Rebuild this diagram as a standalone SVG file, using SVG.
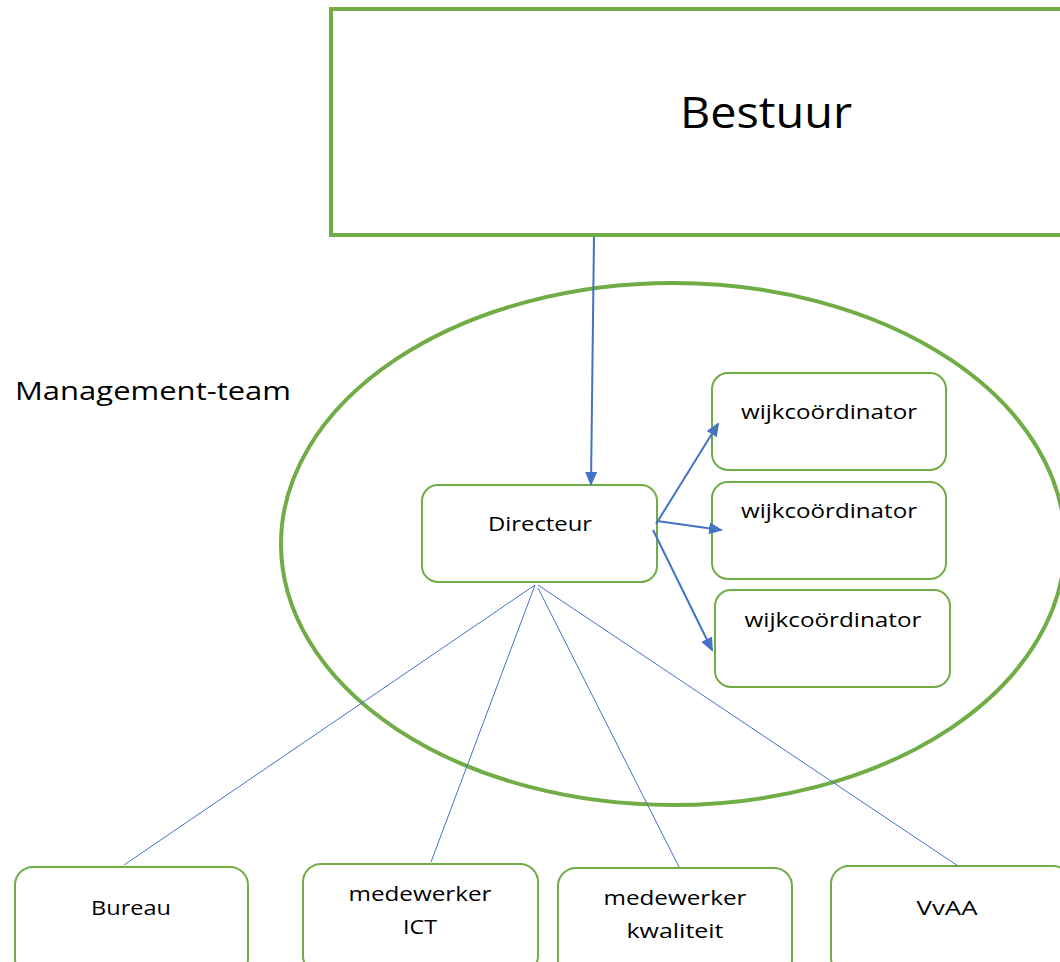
<svg xmlns="http://www.w3.org/2000/svg" width="1060" height="962" viewBox="0 0 1060 962">
<defs>
<marker id="ah" markerWidth="14" markerHeight="12" refX="12" refY="6" orient="auto" markerUnits="userSpaceOnUse">
<path d="M0,0 L14,6 L0,12 z" fill="#4472C4"/>
</marker>
<style>
.t{font-family:"Open Sans","Liberation Sans",sans-serif;fill:#000}
.box{fill:#fff;stroke:#70AD47;stroke-width:2}
.arr{stroke:#4472C4;stroke-width:2;fill:none;marker-end:url(#ah)}
.thin{stroke:#4472C4;stroke-width:1;fill:none}
</style>
</defs>
<rect width="1060" height="962" fill="#fff"/>
<g id="bestuur">
<rect x="331" y="9" width="760" height="226" fill="#fff" stroke="#70AD47" stroke-width="4"/>
<text class="t" x="766" y="128" font-size="44" text-anchor="middle" textLength="172" lengthAdjust="spacingAndGlyphs">Bestuur</text>
</g>
<g id="management-team">
<ellipse cx="673" cy="544" rx="392" ry="261" fill="none" stroke="#70AD47" stroke-width="4"/>
<text class="t" x="15" y="400" font-size="26" textLength="276" lengthAdjust="spacingAndGlyphs">Management-team</text>
</g>
<g id="directeur">
<rect class="box" x="422" y="485" width="235" height="97" rx="16"/>
<text class="t" x="540" y="531" font-size="20" text-anchor="middle" textLength="104" lengthAdjust="spacingAndGlyphs">Directeur</text>
</g>
<g id="wijk1">
<rect class="box" x="712" y="373" width="234" height="97" rx="16"/>
<text class="t" x="829" y="419" font-size="20" text-anchor="middle" textLength="176" lengthAdjust="spacingAndGlyphs">wijkcoördinator</text>
</g>
<g id="wijk2">
<rect class="box" x="712" y="482" width="234" height="97" rx="16"/>
<text class="t" x="829" y="518" font-size="20" text-anchor="middle" textLength="176" lengthAdjust="spacingAndGlyphs">wijkcoördinator</text>
</g>
<g id="wijk3">
<rect class="box" x="715" y="590" width="235" height="97" rx="16"/>
<text class="t" x="833" y="627" font-size="20" text-anchor="middle" textLength="177" lengthAdjust="spacingAndGlyphs">wijkcoördinator</text>
</g>
<g id="bureau">
<rect class="box" x="15" y="867" width="233" height="110" rx="18"/>
<text class="t" x="131" y="915" font-size="20" text-anchor="middle" textLength="80" lengthAdjust="spacingAndGlyphs">Bureau</text>
</g>
<g id="ict">
<rect class="box" x="303" y="864" width="235" height="110" rx="18"/>
<text class="t" x="420" y="901" font-size="20" text-anchor="middle" textLength="143" lengthAdjust="spacingAndGlyphs">medewerker</text>
<text class="t" x="420" y="934" font-size="20" text-anchor="middle" textLength="34" lengthAdjust="spacingAndGlyphs">ICT</text>
</g>
<g id="kwaliteit">
<rect class="box" x="558" y="868" width="234" height="110" rx="18"/>
<text class="t" x="675" y="905" font-size="20" text-anchor="middle" textLength="143" lengthAdjust="spacingAndGlyphs">medewerker</text>
<text class="t" x="675" y="938" font-size="20" text-anchor="middle" textLength="97" lengthAdjust="spacingAndGlyphs">kwaliteit</text>
</g>
<g id="vvaa">
<rect class="box" x="831" y="866" width="240" height="110" rx="18"/>
<text class="t" x="947" y="915" font-size="20" text-anchor="middle" textLength="61" lengthAdjust="spacingAndGlyphs">VvAA</text>
</g>
<g id="connectors">
<line class="arr" x1="594" y1="237" x2="591" y2="484"/>
<line class="arr" x1="656" y1="524" x2="718" y2="424"/>
<line class="arr" x1="657" y1="521" x2="721" y2="530"/>
<line class="arr" x1="653" y1="530" x2="712" y2="650"/>
<line class="thin" x1="535" y1="585" x2="124" y2="865"/>
<line class="thin" x1="535" y1="585" x2="431" y2="862"/>
<line class="thin" x1="538" y1="588" x2="679" y2="867"/>
<line class="thin" x1="538" y1="585" x2="958" y2="866"/>
</g>
</svg>
